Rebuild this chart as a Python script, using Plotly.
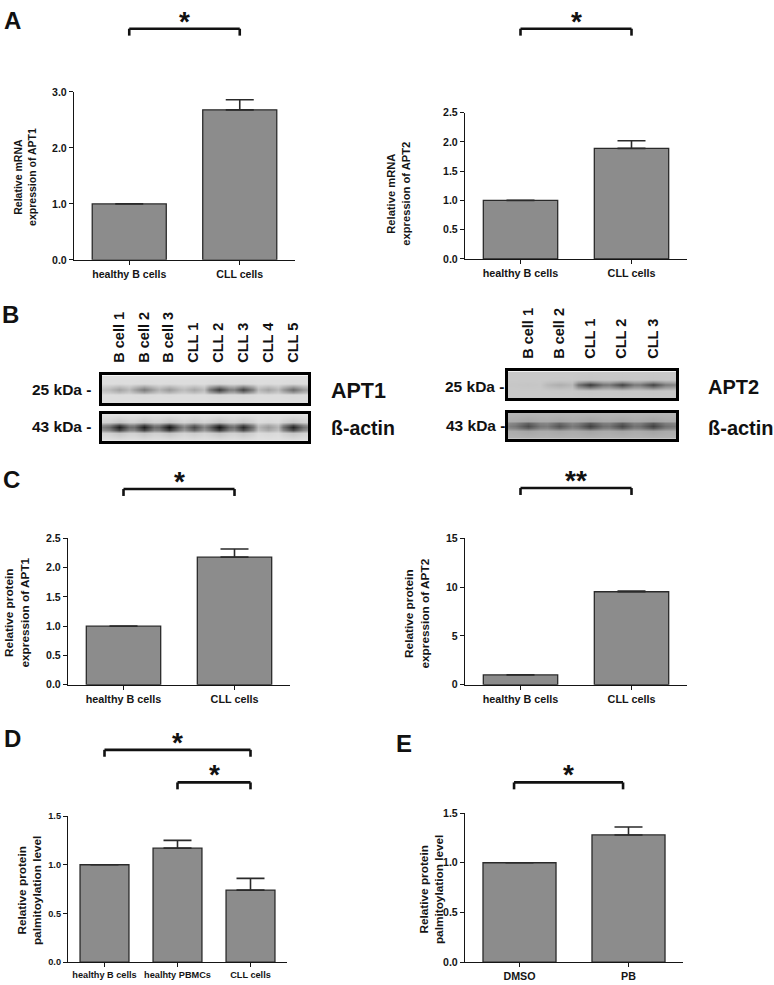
import plotly.graph_objects as go

# ---------------- data ----------------
cats_two = ['healthy B cells', 'CLL cells']
mrna_apt1 = [1.0, 2.68]
mrna_apt1_err = [0.0, 0.18]
mrna_apt2 = [1.0, 1.89]
mrna_apt2_err = [0.0, 0.13]
prot_apt1 = [1.0, 2.18]
prot_apt1_err = [0.0, 0.14]
prot_apt2 = [1.0, 9.53]
prot_apt2_err = [0.0, 0.08]
cats_D = ['healthy B cells', 'healhty PBMCs', 'CLL cells']
palm_D = [1.0, 1.17, 0.74]
palm_D_err = [0.0, 0.08, 0.12]
cats_E = ['DMSO', 'PB']
palm_E = [1.0, 1.28]
palm_E_err = [0.0, 0.08]

lanes_left = ['B cell 1', 'B cell 2', 'B cell 3', 'CLL 1', 'CLL 2', 'CLL 3', 'CLL 4', 'CLL 5']
apt1_band = [0.30, 0.50, 0.35, 0.28, 0.82, 0.78, 0.30, 0.58]
actin_left_band = [0.95, 0.95, 1.00, 0.75, 1.00, 0.90, 0.35, 0.92]
lanes_right = ['B cell 1', 'B cell 2', 'CLL 1', 'CLL 2', 'CLL 3']
apt2_band = [0.02, 0.15, 0.80, 0.75, 0.75]
actin_right_band = [0.65, 0.60, 0.72, 0.68, 0.72]

# ---------------- helpers ----------------
W, H = 774, 985
FONT = 'Liberation Sans, Arial, sans-serif'
INK = '#151515'


def fx(p):
    return p / W


def fy(p):
    return 1 - p / H


fig = go.Figure()
layout = {}
shapes = []
annotations = []

bar_panels = [
    dict(cats=cats_two, vals=mrna_apt1, err=mrna_apt1_err, xp=(74, 295), yp=(87, 257), ymax=3.0, dtick=1.0,
         fmt='.1f', tick=10.6, title='Relative mRNA<br>expression of APT1', tsize=10.5, tpos=(25, 173),
         brackets=[(0, 1, 23, '*')]),
    dict(cats=cats_two, vals=mrna_apt2, err=mrna_apt2_err, xp=(465, 687), yp=(108, 256), ymax=2.5, dtick=0.5,
         fmt='.1f', tick=10.8, title='Relative mRNA<br>expression of APT2', tsize=11.2, tpos=(399, 190),
         brackets=[(0, 1, 23, '*')]),
    dict(cats=cats_two, vals=prot_apt1, err=prot_apt1_err, xp=(68, 290), yp=(539, 687), ymax=2.5, dtick=0.5,
         fmt='.1f', tick=10.8, title='Relative protein<br>expression of APT1', tsize=11.8, tpos=(17, 614),
         brackets=[(0, 1, 489, '*')]),
    dict(cats=cats_two, vals=prot_apt2, err=prot_apt2_err, xp=(465, 687), yp=(539, 687), ymax=15, dtick=5,
         fmt='d', tick=10.8, title='Relative protein<br>expression of APT2', tsize=11.8, tpos=(417, 615),
         brackets=[(0, 1, 488, '**')]),
    dict(cats=cats_D, vals=palm_D, err=palm_D_err, xp=(68, 287), yp=(820, 968), ymax=1.5, dtick=0.5,
         fmt='.1f', tick=9.2, title='Relative protein<br>palmitoylation level', tsize=11.8, tpos=(29, 896),
         brackets=[(0, 2, 753, '*'), (1, 2, 786, '*')]),
    dict(cats=cats_E, vals=palm_E, err=palm_E_err, xp=(465, 683), yp=(817, 968), ymax=1.5, dtick=0.5,
         fmt='.1f', tick=10.7, title='Relative protein<br>palmitoylation level', tsize=11.8, tpos=(431, 894),
         brackets=[(-0.05, 0.95, 786, '*')]),
]

n = 0
for p in bar_panels:
    n += 1
    xa, ya = f'x{n}', f'y{n}'
    nc = len(p['cats'])
    fig.add_trace(go.Bar(
        x=p['cats'], y=p['vals'], xaxis=xa, yaxis=ya, width=0.67,
        marker=dict(color='#8c8c8c', line=dict(color='#2a2a2a', width=1.3)),
        error_y=dict(type='data', symmetric=False, array=p['err'], arrayminus=[0] * nc,
                     width=14, thickness=1.6, color='#2a2a2a'),
        hoverinfo='skip'))
    tf = dict(family=FONT, size=p['tick'], color=INK, weight='bold')
    layout[f'xaxis{n}'] = dict(domain=[fx(p['xp'][0]), fx(p['xp'][1])], anchor=ya, type='category',
                               range=[-0.5, nc - 0.5], showline=True, linecolor=INK, linewidth=1.3,
                               ticks='outside', ticklen=4, tickcolor=INK, tickwidth=1.3,
                               tickfont=tf, showgrid=False, zeroline=False, fixedrange=True)
    layout[f'yaxis{n}'] = dict(domain=[fy(p['yp'][1]), fy(p['yp'][0])], anchor=xa,
                               range=[0, p['ymax']], dtick=p['dtick'], tick0=0, tickformat=p['fmt'],
                               showline=True, linecolor=INK, linewidth=1.3,
                               ticks='outside', ticklen=4, tickcolor=INK, tickwidth=1.3,
                               tickfont=dict(family=FONT, size=10.6 if p['tick'] > 10 else 9.2, color=INK,
                                             weight='bold'),
                               showgrid=False, zeroline=False, fixedrange=True)
    annotations.append(dict(x=fx(p['tpos'][0]), y=fy(p['tpos'][1]), xref='paper', yref='paper',
                            text=p['title'], textangle=-90, showarrow=False, xanchor='center',
                            yanchor='middle', font=dict(family=FONT, size=p['tsize'], color=INK,
                                                        weight='bold')))
    for (i, j, yb, lab) in p['brackets']:
        y0, y1 = fy(yb), fy(yb + 7)
        for (a0, b0, a1, b1) in [(i, y1, i, y0), (i, y0, j, y0), (j, y0, j, y1)]:
            shapes.append(dict(type='line', xref=xa, yref='paper', x0=a0, y0=b0, x1=a1, y1=b1,
                               line=dict(color='#111', width=2.6)))
        annotations.append(dict(x=(i + j) / 2, y=y0, xref=xa, yref='paper', text=lab, showarrow=False,
                                xanchor='center', yanchor='bottom', yshift=-10,
                                font=dict(family=FONT, size=28, color='#111', weight='bold')))


# ---------------- western blots ----------------
def blot_grid(intens, xr, prof):
    xs = [xr[0]]
    d = [intens[0] * 0.5]
    for k, v in enumerate(intens):
        for off, m in zip((-0.4, 0.0, 0.4), (0.6, 1.0, 0.6)):
            xs.append(k + off)
            d.append(v * m)
    xs.append(xr[1])
    d.append(intens[-1] * 0.5)
    z = [[di * pr for di in d] for pr in prof]
    return xs, z


rows_y = [0, 0.3, 0.4, 0.5, 0.6, 0.7, 1]
thin_prof = [0, 0.03, 0.55, 1, 0.55, 0.03, 0]
thick_prof = [0, 0.15, 0.8, 1, 0.8, 0.15, 0]

blots = [
    dict(intens=apt1_band, lanes=lanes_left, xr=(-0.68, 7.59), xp=(102, 308), yp=(374, 402), bg='#dedede',
         prof=thin_prof, labels=True),
    dict(intens=actin_left_band, lanes=lanes_left, xr=(-0.68, 7.59), xp=(102, 308), yp=(413, 440), bg='#e2e2e2',
         prof=thick_prof, labels=False),
    dict(intens=apt2_band, lanes=lanes_right, xr=(-0.64, 4.74), xp=(508, 676), yp=(370, 397), bg='#c9c9c9',
         prof=thin_prof, labels=True),
    dict(intens=actin_right_band, lanes=lanes_right, xr=(-0.64, 4.74), xp=(508, 676), yp=(412, 438), bg='#b5b5b5',
         prof=thick_prof, labels=False),
]

for b in blots:
    n += 1
    xa, ya = f'x{n}', f'y{n}'
    xs, z = blot_grid(b['intens'], b['xr'], b['prof'])
    fig.add_trace(go.Heatmap(x=xs, y=rows_y, z=z, xaxis=xa, yaxis=ya, zmin=0, zmax=1, zsmooth='best',
                             colorscale=[[0, b['bg']], [1, '#141414']], showscale=False, hoverinfo='skip'))
    layout[f'xaxis{n}'] = dict(domain=[fx(b['xp'][0]), fx(b['xp'][1])], anchor=ya, range=list(b['xr']),
                               showline=True, mirror=True, linecolor='#000', linewidth=2.6,
                               side='top', tickvals=list(range(len(b['lanes']))), ticktext=b['lanes'],
                               showticklabels=b['labels'], ticks='', tickangle=-90, ticklabelstandoff=7,
                               tickfont=dict(family=FONT, size=14.5, color='#111', weight='bold'),
                               showgrid=False, zeroline=False, fixedrange=True)
    layout[f'yaxis{n}'] = dict(domain=[fy(b['yp'][1]), fy(b['yp'][0])], anchor=xa, range=[0, 1],
                               showline=True, mirror=True, linecolor='#000', linewidth=2.6,
                               showticklabels=False, ticks='', showgrid=False, zeroline=False, fixedrange=True)

blot_texts = [
    ('25 kDa -', 93, 388, 'right', 15.5),
    ('43 kDa -', 93, 426, 'right', 15.5),
    ('APT1', 329, 390, 'left', 21.5),
    ('ß-actin', 329, 427, 'left', 19.5),
    ('25 kDa -', 506, 385, 'right', 15.5),
    ('43 kDa -', 507, 425, 'right', 15.5),
    ('APT2', 706, 386, 'left', 20),
    ('ß-actin', 706, 427, 'left', 20),
]
for t, x, y, anc, sz in blot_texts:
    annotations.append(dict(x=fx(x), y=fy(y), xref='paper', yref='paper', text=t, showarrow=False,
                            xanchor=anc, yanchor='middle',
                            font=dict(family=FONT, size=sz, color='#111', weight='bold')))

# panel letters
for t, x, y in [('A', 2, 5), ('B', 0, 303), ('C', 1, 470), ('D', 2, 732), ('E', 394, 737)]:
    annotations.append(dict(x=fx(x), y=fy(y - 6), xref='paper', yref='paper', text=t, showarrow=False,
                            xanchor='left', yanchor='top',
                            font=dict(family=FONT, size=24, color='#111', weight='bold')))

layout.update(dict(width=W, height=H, margin=dict(l=0, r=0, t=0, b=0), paper_bgcolor='white',
                   plot_bgcolor='white', showlegend=False, shapes=shapes, annotations=annotations,
                   font=dict(family=FONT)))
fig.update_layout(layout)
fig.write_html('out.html', config={'displayModeBar': False},
               post_script="document.body.style.margin='0';document.body.style.padding='0';"
                           "document.body.style.overflow='hidden';")
